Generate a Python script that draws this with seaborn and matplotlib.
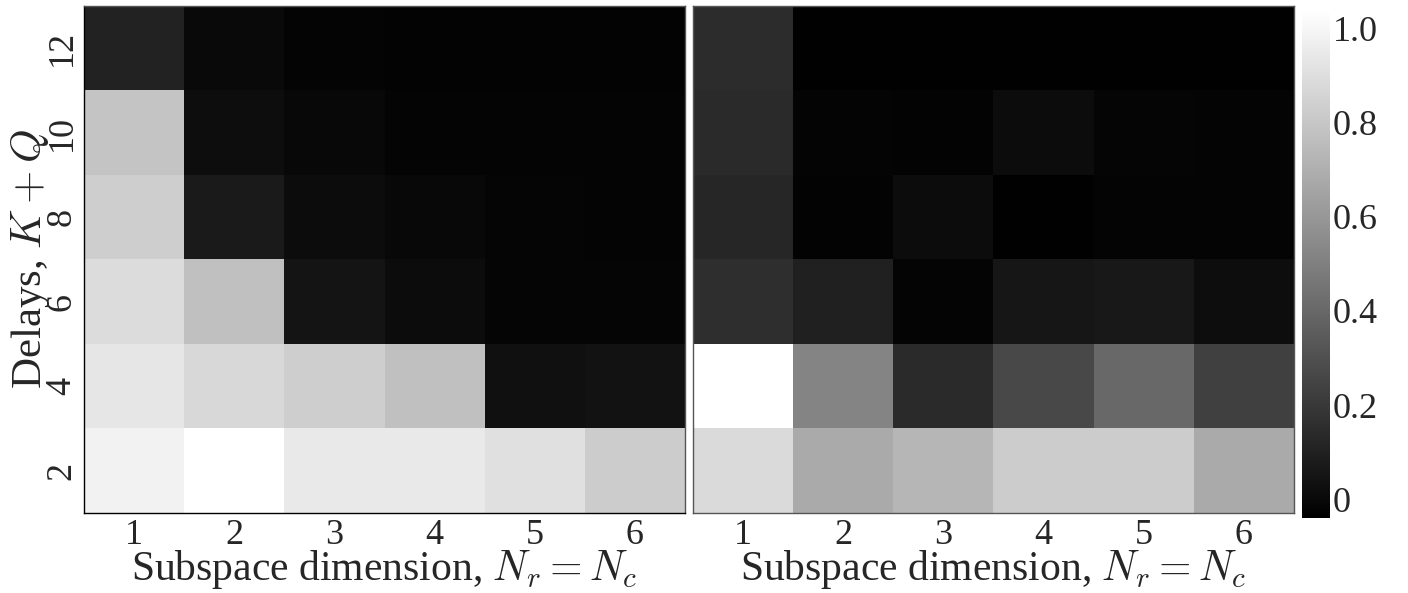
import numpy as np
import pandas as pd
import seaborn as sns
import matplotlib.pyplot as plt

# Delays (rows, top to bottom) and subspace dimension (columns)
delays = [12, 10, 8, 6, 4, 2]
dims = [1, 2, 3, 4, 5, 6]

# Left panel values, one list per delay row (top row = 12)
left_vals = [
    [0.104, 0.002, -0.023, -0.027, -0.027, -0.027],
    [0.790, 0.019, -0.006, -0.019, -0.019, -0.023],
    [0.832, 0.070, 0.011, -0.006, -0.015, -0.019],
    [0.892, 0.773, 0.045, 0.011, -0.015, -0.015],
    [0.934, 0.875, 0.832, 0.773, 0.028, 0.036],
    [0.985, 1.040, 0.943, 0.943, 0.909, 0.824],
]

# Right panel values
right_vals = [
    [0.146, -0.032, -0.032, -0.032, -0.032, -0.032],
    [0.138, -0.023, -0.027, 0.011, -0.015, -0.019],
    [0.121, -0.027, 0.011, -0.032, -0.019, -0.019],
    [0.155, 0.096, -0.023, 0.053, 0.062, 0.019],
    [1.040, 0.519, 0.138, 0.265, 0.400, 0.231],
    [0.883, 0.680, 0.731, 0.824, 0.824, 0.680],
]

cbar_ticks = [0, 0.2, 0.4, 0.6, 0.8, 1.0]
cbar_labels = ["0", "0.2", "0.4", "0.6", "0.8", "1.0"]

df_left = pd.DataFrame(left_vals, index=delays, columns=dims)
df_right = pd.DataFrame(right_vals, index=delays, columns=dims)

sns.set_theme(style="white")
plt.rcParams['font.family'] = ['Liberation Serif', 'DejaVu Serif']
plt.rcParams['mathtext.fontset'] = 'cm'

dpi = 100
fig = plt.figure(figsize=(1408 / dpi, 593 / dpi), dpi=dpi)
ax1 = fig.add_axes([0.0597, 0.135, 0.4268, 0.855])
ax2 = fig.add_axes([0.4922, 0.135, 0.4268, 0.855])
cax = fig.add_axes([0.9247, 0.1265, 0.0199, 0.857])

vmin, vmax = -0.04, 1.04
sns.heatmap(df_left, ax=ax1, cmap="gray", vmin=vmin, vmax=vmax, cbar=False)
sns.heatmap(df_right, ax=ax2, cmap="gray", vmin=vmin, vmax=vmax, cbar=True, cbar_ax=cax)

xlabel = r"Subspace dimension, $N_r = N_c$"
for ax in (ax1, ax2):
    for sp in ax.spines.values():
        sp.set_visible(True)
        sp.set_color("#555555")
        sp.set_linewidth(1.0)
    ax.tick_params(direction="in", length=5, width=0.8, color="#555555",
                   top=True, right=True, bottom=True, left=True,
                   labelsize=26, pad=4)
    ax.set_xticklabels([str(d) for d in dims], rotation=0)
    ax.set_xlabel(xlabel, fontsize=30)
    ax.xaxis.set_label_coords(0.5, -0.07)

ax1.set_yticklabels([str(d) for d in delays], rotation=90, va="center")
ax1.set_ylabel(r"Delays, $K+Q$", fontsize=31)
ax1.yaxis.set_label_coords(-0.053, 0.5)
ax1.spines["left"].set_color("black")
ax1.spines["bottom"].set_color("black")
ax2.set_yticklabels([])
ax2.set_ylabel("")

cbar = ax2.collections[0].colorbar
cbar.set_ticks(cbar_ticks)
cbar.set_ticklabels(cbar_labels)
cbar.ax.tick_params(direction="in", length=4, labelsize=26, pad=2)
cbar.outline.set_visible(True)
cbar.outline.set_edgecolor("#555555")

fig.savefig("out.png", dpi=dpi)
